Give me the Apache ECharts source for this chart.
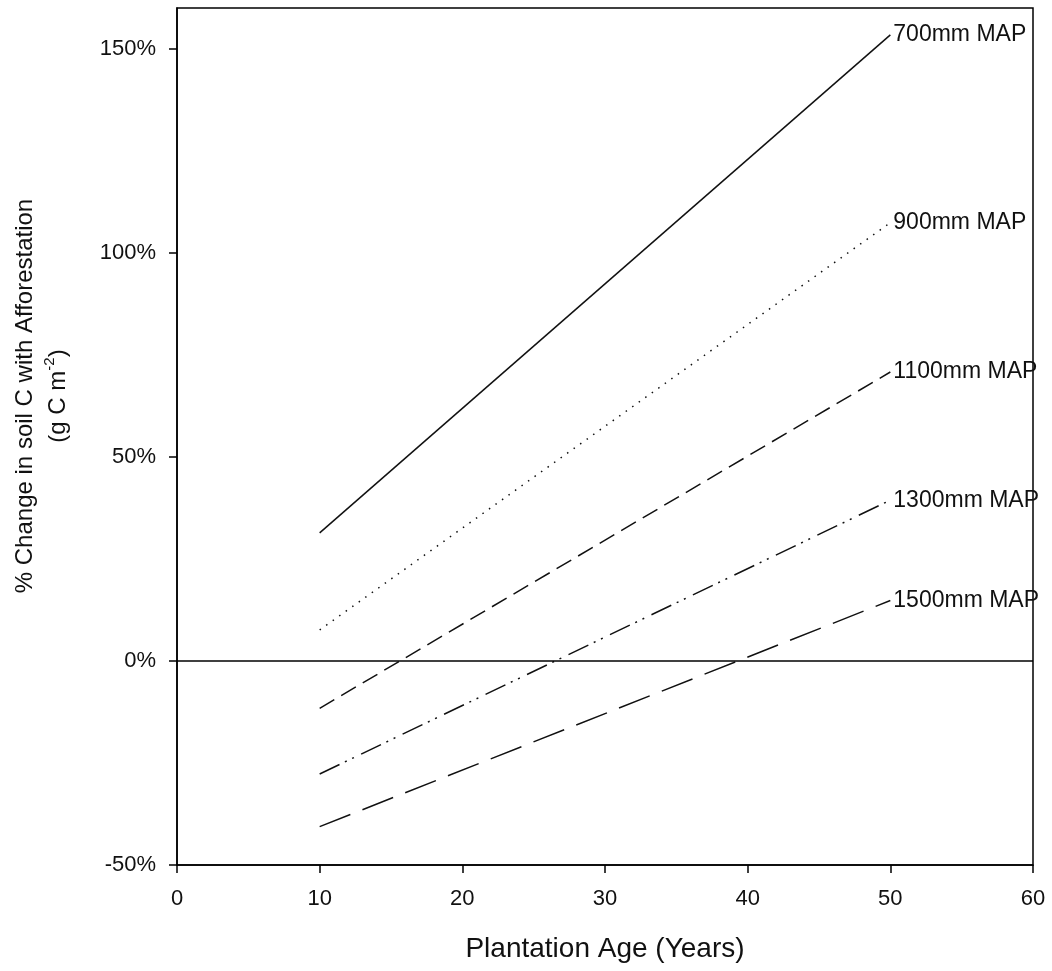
<!DOCTYPE html>
<html>
<head>
<meta charset="utf-8">
<script src="https://cdn.jsdelivr.net/npm/echarts@6/dist/echarts.min.js"></script>
<style>
  html, body { margin: 0; padding: 0; background: #fff; }
  #main { width: 1052px; height: 971px; }
</style>
</head>
<body>
<div id="main"></div>
<script>
// plantation age (years) at the two ends of each line
var ages = [10, 50];
// % change in soil C
var map700 = [31.4, 153.4];
var map900 = [7.6, 107.4];
var map1100 = [-11.6, 70.8];
var map1300 = [-27.7, 39.4];
var map1500 = [-40.6, 14.8];
var seriesNames = ['700mm MAP', '900mm MAP', '1100mm MAP', '1300mm MAP', '1500mm MAP'];
var xTicks = [0, 10, 20, 30, 40, 50, 60];
var yTicks = [-50, 0, 50, 100, 150];

var FONT = '"Liberation Sans", Arial, sans-serif';
var INK = '#111';

function pairs(vals) {
    return ages.map(function (a, i) { return [a, vals[i]]; });
}

// dash patterns: solid, dotted, dashed, dash-dot-dot, long dash
var dashes = ['solid', [1.5, 6.5], [17, 8], [22, 6, 2, 6, 2, 8], [33, 13]];
var allVals = [map700, map900, map1100, map1300, map1500];

var chart = echarts.init(document.getElementById('main'));

var series = allVals.map(function (vals, i) {
    var s = {
        name: seriesNames[i],
        type: 'line',
        data: pairs(vals),
        showSymbol: false,
        symbol: 'none',
        lineStyle: { color: INK, width: 1.5, type: dashes[i] },
        endLabel: {
            show: true,
            formatter: '{a}',
            fontSize: 23,
            fontFamily: FONT,
            color: INK,
            distance: 3
        }
    };
    if (i === 0) {
        // zero reference line
        s.markLine = {
            silent: true,
            symbol: ['none', 'none'],
            label: { show: false },
            lineStyle: { color: '#000', width: 1.5, type: 'solid' },
            data: [{ yAxis: 0 }]
        };
    }
    return s;
});

chart.setOption({
    animation: false,
    backgroundColor: '#fff',
    textStyle: { fontFamily: FONT },
    grid: {
        left: 177, right: 19, top: 8, bottom: 106,
        show: true, borderColor: '#000', borderWidth: 1.5, containLabel: false
    },
    xAxis: {
        type: 'value',
        min: xTicks[0],
        max: xTicks[xTicks.length - 1],
        interval: 10,
        name: 'Plantation Age (Years)',
        nameLocation: 'middle',
        nameGap: 70,
        nameTextStyle: { fontSize: 28, color: INK, fontFamily: FONT },
        axisLine: { show: true, onZero: false, lineStyle: { color: '#000', width: 1.5 } },
        axisTick: { show: true, inside: false, length: 8, lineStyle: { color: '#000', width: 1.5 } },
        axisLabel: { fontSize: 22, color: INK, margin: 23, fontFamily: FONT },
        splitLine: { show: false }
    },
    yAxis: {
        type: 'value',
        min: yTicks[0],
        max: 160,
        interval: 50,
        axisLine: { show: true, onZero: false, lineStyle: { color: '#000', width: 1.5 } },
        axisTick: { show: true, inside: false, length: 8, lineStyle: { color: '#000', width: 1.5 } },
        axisLabel: {
            fontSize: 22, color: INK, margin: 21, fontFamily: FONT,
            showMaxLabel: false,
            formatter: function (v) { return yTicks.indexOf(v) >= 0 ? v + '%' : ''; }
        },
        splitLine: { show: false }
    },
    graphic: [{
        type: 'text',
        x: 42,
        y: 396,
        rotation: Math.PI / 2,
        silent: true,
        style: {
            text: '% Change in soil C with Afforestation\n(g C m{sup|-2})',
            fill: INK,
            fontSize: 24,
            fontFamily: FONT,
            align: 'center',
            verticalAlign: 'middle',
            lineHeight: 33,
            rich: {
                sup: { fontSize: 15, fontFamily: FONT, fill: INK, verticalAlign: 'top', lineHeight: 22 }
            }
        }
    }],
    series: series
});
</script>
</body>
</html>
